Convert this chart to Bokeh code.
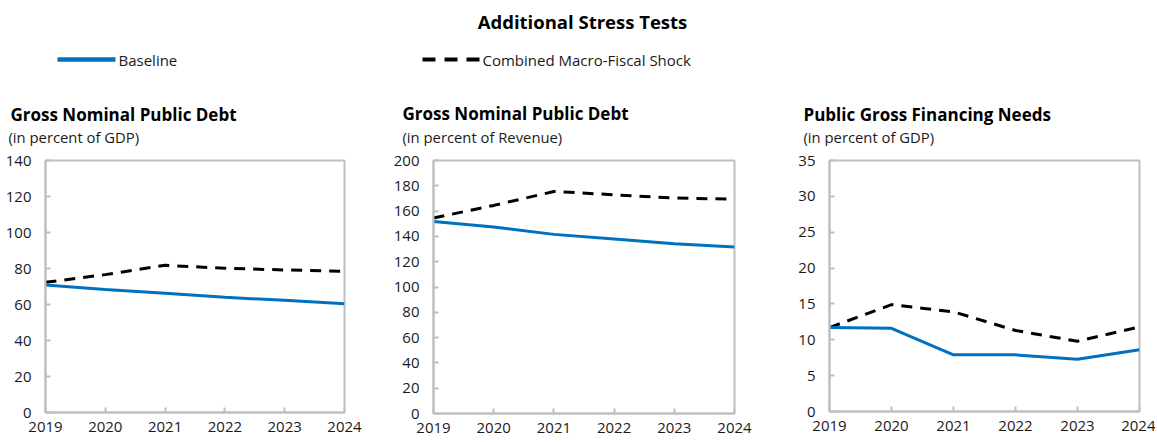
from bokeh.plotting import figure
from bokeh.layouts import column, row
from bokeh.models import Range1d, FixedTicker
from bokeh.core.properties import value
from bokeh.embed import file_html
from bokeh.resources import INLINE

# ---------------- data ----------------
years = [2019, 2020, 2021, 2022, 2023, 2024]
year_labels = ["2019", "2020", "2021", "2022", "2023", "2024"]

debt_gdp_baseline = [70.8, 68.4, 66.2, 64.0, 62.3, 60.4]
debt_gdp_shock = [72.3, 76.6, 81.8, 80.1, 79.2, 78.4]

debt_rev_baseline = [151.8, 147.4, 141.6, 137.9, 134.2, 131.6]
debt_rev_shock = [154.5, 164.5, 175.5, 172.9, 170.3, 169.5]

gfn_baseline = [11.7, 11.6, 7.9, 7.9, 7.3, 8.6]
gfn_shock = [11.7, 14.9, 13.9, 11.3, 9.8, 11.8]

main_title = "Additional Stress Tests"
series_names = ["Baseline", "Combined Macro-Fiscal Shock"]
panel_titles = ["Gross Nominal Public Debt", "Gross Nominal Public Debt", "Public Gross Financing Needs"]
panel_subtitles = ["(in percent of GDP)", "(in percent of Revenue)", "(in percent of GDP)"]
y_maxes = [140, 200, 35]
y_steps = [20, 20, 5]

# ---------------- styles ----------------
FONT = "Open Sans"
BLUE = "#0070C0"
GRID_GRAY = "#BFBFBF"
TXT = "#1a1a1a"
TOTAL_W = 1156
HEADER_H = 146

# ---------------- header (title, legend, panel titles) ----------------
hdr = figure(width=TOTAL_W, height=HEADER_H, x_range=Range1d(0, TOTAL_W),
             y_range=Range1d(HEADER_H, 0), x_axis_location=None, y_axis_location=None,
             toolbar_location=None, output_backend="svg", min_border=0,
             outline_line_color=None, title_location=None)
hdr.grid.visible = False

hdr.text(x=[582], y=[21], text=[main_title], text_font=value(FONT),
         text_font_size="18.5px", text_font_style="bold", text_align="center",
         text_baseline="middle", text_color="black")

# legend samples
hdr.segment(x0=[57], y0=[59], x1=[115], y1=[59], line_color=BLUE, line_width=4.5)
hdr.segment(x0=[422], y0=[59], x1=[480], y1=[59], line_color="black", line_width=4,
            line_dash="13 9")
hdr.text(x=[118, 482], y=[59, 59], text=series_names, text_font=value(FONT),
         text_font_size="15px", text_align="left", text_baseline="middle", text_color=TXT)

# panel titles
hdr.text(x=[10, 402, 803], y=[114, 113, 114], text=panel_titles, text_font=value(FONT),
         text_font_size="17px", text_font_style="bold", text_align="left",
         text_baseline="middle", text_color="black")
hdr.text(x=[8, 402, 803], y=[136, 136, 136], text=panel_subtitles, text_font=value(FONT),
         text_font_size="14.8px", text_align="left", text_baseline="middle", text_color=TXT)


# ---------------- panels ----------------
def make_panel(base, shock, ymax, ystep, left, frame_w, right, top, frame_h, bottom):
    p = figure(frame_width=frame_w, frame_height=frame_h,
               x_range=Range1d(years[0], years[-1]), y_range=Range1d(0, ymax),
               toolbar_location=None, output_backend="svg", title_location=None,
               min_border_left=left, min_border_right=right,
               min_border_top=top, min_border_bottom=bottom,
               outline_line_color=GRID_GRAY, outline_line_width=2)
    p.grid.visible = False
    p.line(years, shock, line_color="black", line_width=3, line_dash="11 8")
    p.line(years, base, line_color=BLUE, line_width=3)

    p.xaxis.ticker = FixedTicker(ticks=years)
    p.xaxis.major_label_overrides = {y: l for y, l in zip(years, year_labels)}
    p.yaxis.ticker = FixedTicker(ticks=list(range(0, ymax + 1, ystep)))
    for ax in (p.xaxis, p.yaxis):
        ax.axis_line_color = GRID_GRAY
        ax.axis_line_width = 2
        ax.major_tick_line_color = GRID_GRAY
        ax.major_tick_line_width = 2
        ax.major_tick_in = 5
        ax.major_tick_out = 0
        ax.minor_tick_line_color = None
        ax.major_label_text_font = FONT
        ax.major_label_text_font_size = "15px"
        ax.major_label_text_color = TXT
    p.xaxis.major_label_standoff = 9
    p.yaxis.major_label_standoff = 14
    return p


p1 = make_panel(debt_gdp_baseline, debt_gdp_shock, y_maxes[0], y_steps[0],
                45, 299, 44, 14, 252, 30)
p2 = make_panel(debt_rev_baseline, debt_rev_shock, y_maxes[1], y_steps[1],
                45, 301, 44, 14, 253, 29)
p3 = make_panel(gfn_baseline, gfn_shock, y_maxes[2], y_steps[2],
                51, 310, 16, 14, 251, 31)

layout = column(hdr, row(p1, p2, p3, spacing=0), spacing=0)

open("out.html", "w").write(file_html(layout, INLINE))
